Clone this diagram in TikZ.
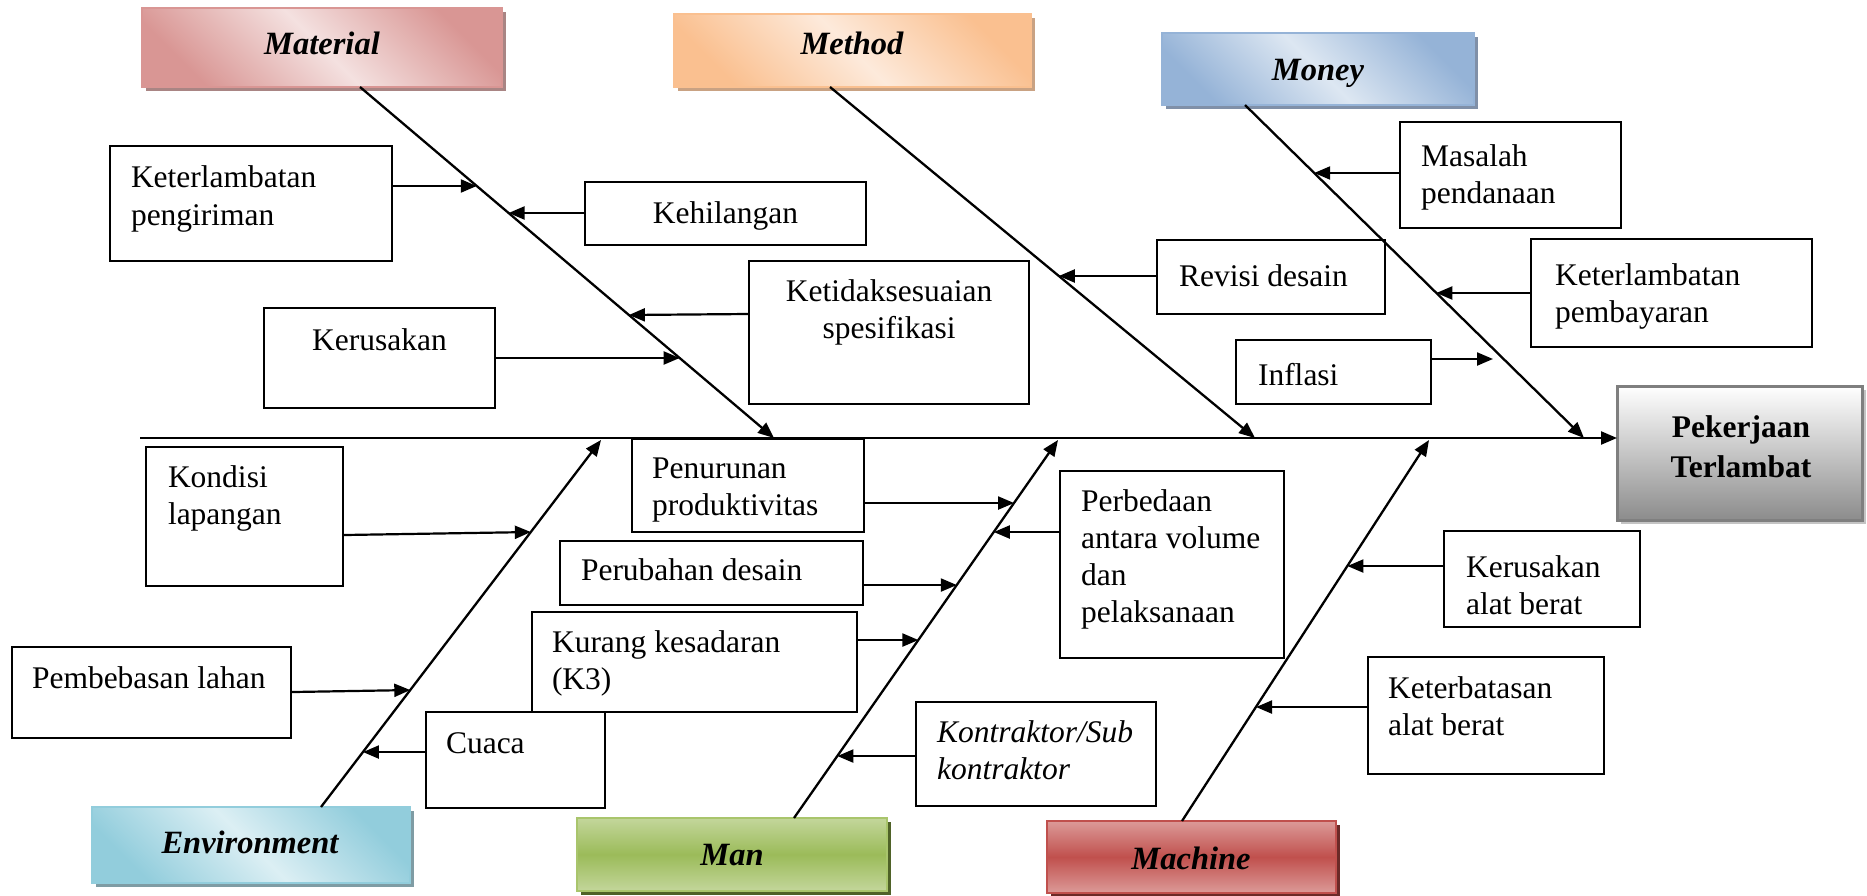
\documentclass[tikz,border=0pt]{standalone}
\usepackage{fontspec}
\setmainfont{Liberation Serif}
\usetikzlibrary{arrows.meta,shadows}

% multi-line text blocks whose reference point is the first baseline
\newcommand\lnsl[1]{\begin{tabular}[t]{@{}l@{}}#1\end{tabular}}
\newcommand\lnsc[1]{\begin{tabular}[t]{@{}c@{}}#1\end{tabular}}

% category colours: dark tone, light tone, shadow
\definecolor{matD}{HTML}{D99694}\definecolor{matL}{HTML}{F4E1E0}\definecolor{matS}{HTML}{A98584}
\definecolor{metD}{HTML}{FAC090}\definecolor{metL}{HTML}{FDEADB}\definecolor{metS}{HTML}{C9A283}
\definecolor{monD}{HTML}{95B3D7}\definecolor{monL}{HTML}{DDE7F2}\definecolor{monS}{HTML}{8090A8}
\definecolor{envD}{HTML}{92CDDC}\definecolor{envL}{HTML}{DCEFF4}\definecolor{envS}{HTML}{7F9CA4}
\definecolor{manD}{HTML}{9BBB59}\definecolor{manL}{HTML}{C3D69B}\definecolor{manS}{HTML}{4F6228}\definecolor{manB}{HTML}{A9C56C}
\definecolor{macD}{HTML}{C0504D}\definecolor{macL}{HTML}{DC9A98}\definecolor{macS}{HTML}{6B2A28}
\definecolor{effB}{HTML}{7F7F7F}\definecolor{effG}{HTML}{8C8C8C}\definecolor{effS}{HTML}{C4C4C4}

\begin{document}
\begin{tikzpicture}[x=1pt,y=-1pt,
  every node/.style={inner sep=0pt,outer sep=0pt},
  cbox/.style={draw=black,line width=1.8pt},
  ctext/.style={font=\fontsize{31.5}{37}\selectfont,anchor=base west},
  cattext/.style={font=\fontsize{32.5}{39}\selectfont\bfseries\itshape,anchor=base},
  catdiag/.style n args={3}{draw=#1,line width=2pt,
    top color=#1,bottom color=#1,middle color=#2,shading angle=-45,
    drop shadow={shadow xshift=4pt,shadow yshift=-4pt,fill=#3,opacity=1}},
  catband/.style n args={4}{draw=#4,line width=2pt,
    top color=#2,bottom color=#2,middle color=#1,
    drop shadow={shadow xshift=4pt,shadow yshift=-4pt,fill=#3,opacity=1}},
  bone/.style={line width=2.3pt,-{Triangle[length=16pt,width=13pt]}},
  causearrow/.style={line width=2.2pt,-{Triangle[length=16pt,width=13pt]}}
]
\useasboundingbox (0,0) rectangle (1867,896);

% ---------- effect ----------
\node[draw=effB,line width=3pt,top color=white,bottom color=effG,
      drop shadow={shadow xshift=4pt,shadow yshift=-4pt,fill=effS,opacity=1},
      minimum width=245pt,minimum height=134pt,anchor=north west] (effect) at (1617,386) {};
\node[font=\fontsize{31.5}{40}\selectfont\bfseries,anchor=base] (effect-t) at (1741,437)
  {\lnsc{Pekerjaan\\Terlambat}};

% ---------- categories ----------
\node[catdiag={matD}{matL}{matS},minimum width=360pt,minimum height=79pt,anchor=north west] (material) at (142,8) {};
\node[catdiag={metD}{metL}{metS},minimum width=357pt,minimum height=73pt,anchor=north west] (method) at (674,14) {};
\node[catdiag={monD}{monL}{monS},minimum width=312pt,minimum height=72pt,anchor=north west] (money) at (1162,33) {};
\node[catdiag={envD}{envL}{envS},minimum width=318pt,minimum height=76pt,anchor=north west] (environment) at (92,807) {};
\node[catband={manD}{manL}{manS}{manB},minimum width=310pt,minimum height=73pt,anchor=north west] (man) at (577,818) {};
\node[catband={macD}{macL}{macS}{macD},minimum width=289pt,minimum height=72pt,anchor=north west] (machine) at (1047,821) {};

\node[cattext] (material-t) at (322,55) {Material};
\node[cattext] (method-t) at (852,55) {Method};
\node[cattext] (money-t) at (1318,81) {Money};
\node[cattext] (environment-t) at (250,853) {Environment};
\node[cattext] (man-t) at (732,865) {Man};
\node[cattext] (machine-t) at (1191,869) {Machine};

% ---------- spine and bones ----------
\coordinate (spineL) at (140,438);
\draw[bone] (spineL) -- (spineL -| effect.west);

\coordinate (matA) at (360,87);   \coordinate (matB) at (774,438);
\coordinate (metA) at (830,87);   \coordinate (metB) at (1255,438);
\coordinate (monA) at (1245,105); \coordinate (monB) at (1584,438);
\coordinate (envA) at (321,807);  \coordinate (envB) at (601,440);
\coordinate (manA) at (794,818);  \coordinate (manB) at (1058,440);
\coordinate (macA) at (1182,821); \coordinate (macB) at (1429,440);
\draw[bone] (matA) -- (matB);
\draw[bone] (metA) -- (metB);
\draw[bone] (monA) -- (monB);
\draw[bone] (envA) -- (envB);
\draw[bone] (manA) -- (manB);
\draw[bone] (macA) -- (macB);

% ---------- cause boxes ----------
\node[cbox,minimum width=282pt,minimum height=115pt,anchor=north west] (kirim) at (110,146) {};
\node[cbox,minimum width=281pt,minimum height=63pt,anchor=north west] (hilang) at (585,182) {};
\node[cbox,minimum width=280pt,minimum height=143pt,anchor=north west] (spek) at (749,261) {};
\node[cbox,minimum width=231pt,minimum height=100pt,anchor=north west] (rusak) at (264,308) {};
\node[cbox,minimum width=228pt,minimum height=74pt,anchor=north west] (revisi) at (1157,240) {};
\node[cbox,minimum width=221pt,minimum height=106pt,anchor=north west] (dana) at (1400,122) {};
\node[cbox,minimum width=281pt,minimum height=108pt,anchor=north west] (bayar) at (1531,239) {};
\node[cbox,minimum width=195pt,minimum height=64pt,anchor=north west] (inflasi) at (1236,340) {};
\node[cbox,minimum width=197pt,minimum height=139pt,anchor=north west] (kondisi) at (146,447) {};
\node[cbox,minimum width=232pt,minimum height=93pt,anchor=north west] (turun) at (632,439) {};
\node[cbox,minimum width=224pt,minimum height=187pt,anchor=north west] (beda) at (1060,471) {};
\node[cbox,minimum width=303pt,minimum height=64pt,anchor=north west] (ubah) at (560,541) {};
\node[cbox,minimum width=325pt,minimum height=100pt,anchor=north west] (sadar) at (532,612) {};
\node[cbox,minimum width=279pt,minimum height=91pt,anchor=north west] (bebas) at (12,647) {};
\node[cbox,minimum width=179pt,minimum height=96pt,anchor=north west] (cuaca) at (426,712) {};
\node[cbox,minimum width=240pt,minimum height=104pt,anchor=north west] (kontrak) at (916,702) {};
\node[cbox,minimum width=196pt,minimum height=96pt,anchor=north west] (alat) at (1444,531) {};
\node[cbox,minimum width=236pt,minimum height=117pt,anchor=north west] (batas) at (1368,657) {};

% ---------- cause texts ----------
\node[ctext] (kirim-t) at (131,188) {\lnsl{Keterlambatan\\pengiriman}};
\node[ctext,anchor=base] (hilang-t) at (725.5,223) {Kehilangan};
\node[ctext,anchor=base] (spek-t) at (889,301) {\lnsc{Ketidaksesuaian\\spesifikasi}};
\node[ctext,anchor=base] (rusak-t) at (379.5,350) {Kerusakan};
\node[ctext] (revisi-t) at (1179,286) {Revisi desain};
\node[ctext] (dana-t) at (1421,167) {\lnsl{Masalah\\pendanaan}};
\node[ctext] (bayar-t) at (1555,285) {\lnsl{Keterlambatan\\pembayaran}};
\node[ctext] (inflasi-t) at (1258,385) {Inflasi};
\node[ctext] (kondisi-t) at (168,487) {\lnsl{Kondisi\\lapangan}};
\node[ctext] (turun-t) at (652,478) {\lnsl{Penurunan\\produktivitas}};
\node[ctext] (beda-t) at (1081,511) {\lnsl{Perbedaan\\antara volume\\dan\\pelaksanaan}};
\node[ctext] (ubah-t) at (581,580) {Perubahan desain};
\node[ctext] (sadar-t) at (552,652) {\lnsl{Kurang kesadaran\\(K3)}};
\node[ctext] (bebas-t) at (32,688) {Pembebasan lahan};
\node[ctext] (cuaca-t) at (446,753) {Cuaca};
\node[ctext,font=\fontsize{31.5}{37}\selectfont\itshape] (kontrak-t) at (937,742) {\lnsl{Kontraktor/Sub\\kontraktor}};
\node[ctext] (alat-t) at (1466,577) {\lnsl{Kerusakan\\alat berat}};
\node[ctext] (batas-t) at (1388,698) {\lnsl{Keterbatasan\\alat berat}};

% ---------- arrow tips on the bones ----------
\coordinate (tKirim)   at (intersection of matA--matB and 0,186--1,186);
\coordinate (tHilang)  at (intersection of matA--matB and 0,213--1,213);
\coordinate (tSpek)    at (intersection of matA--matB and 0,315--1,315);
\coordinate (tRusak)   at (intersection of matA--matB and 0,358--1,358);
\coordinate (tRevisi)  at (intersection of metA--metB and 0,276--1,276);
\coordinate (tDana)    at (intersection of monA--monB and 0,173--1,173);
\coordinate (tBayar)   at (intersection of monA--monB and 0,293--1,293);
\coordinate (tInflasi) at (1493,359);
\coordinate (tKondisi) at (intersection of envA--envB and 0,532--1,532);
\coordinate (tBebas)   at (intersection of envA--envB and 0,690--1,690);
\coordinate (tCuaca)   at (intersection of envA--envB and 0,752--1,752);
\coordinate (tTurun)   at (intersection of manA--manB and 0,503--1,503);
\coordinate (tBeda)    at (intersection of manA--manB and 0,532--1,532);
\coordinate (tUbah)    at (intersection of manA--manB and 0,585--1,585);
\coordinate (tSadar)   at (intersection of manA--manB and 0,640--1,640);
\coordinate (tKontrak) at (intersection of manA--manB and 0,756--1,756);
\coordinate (tAlat)    at (intersection of macA--macB and 0,566--1,566);
\coordinate (tBatas)   at (intersection of macA--macB and 0,707--1,707);

% ---------- cause arrows ----------
\draw[causearrow] (tKirim -| kirim.east) -- (tKirim);
\draw[causearrow] (tHilang -| hilang.west) -- (tHilang);
\draw[causearrow] ([yshift=1pt]tSpek -| spek.west) -- (tSpek);
\draw[causearrow] (tRusak -| rusak.east) -- (tRusak);
\draw[causearrow] (tRevisi -| revisi.west) -- (tRevisi);
\draw[causearrow] (tDana -| dana.west) -- (tDana);
\draw[causearrow] (tBayar -| bayar.west) -- (tBayar);
\draw[causearrow] (tInflasi -| inflasi.east) -- (tInflasi);
\draw[causearrow] ([yshift=-3pt]tKondisi -| kondisi.east) -- (tKondisi);
\draw[causearrow] ([yshift=-2pt]tBebas -| bebas.east) -- (tBebas);
\draw[causearrow] (tCuaca -| cuaca.west) -- (tCuaca);
\draw[causearrow] (tTurun -| turun.east) -- (tTurun);
\draw[causearrow] (tBeda -| beda.west) -- (tBeda);
\draw[causearrow] (tUbah -| ubah.east) -- (tUbah);
\draw[causearrow] (tSadar -| sadar.east) -- (tSadar);
\draw[causearrow] (tKontrak -| kontrak.west) -- (tKontrak);
\draw[causearrow] (tAlat -| alat.west) -- (tAlat);
\draw[causearrow] (tBatas -| batas.west) -- (tBatas);
\end{tikzpicture}
\end{document}
